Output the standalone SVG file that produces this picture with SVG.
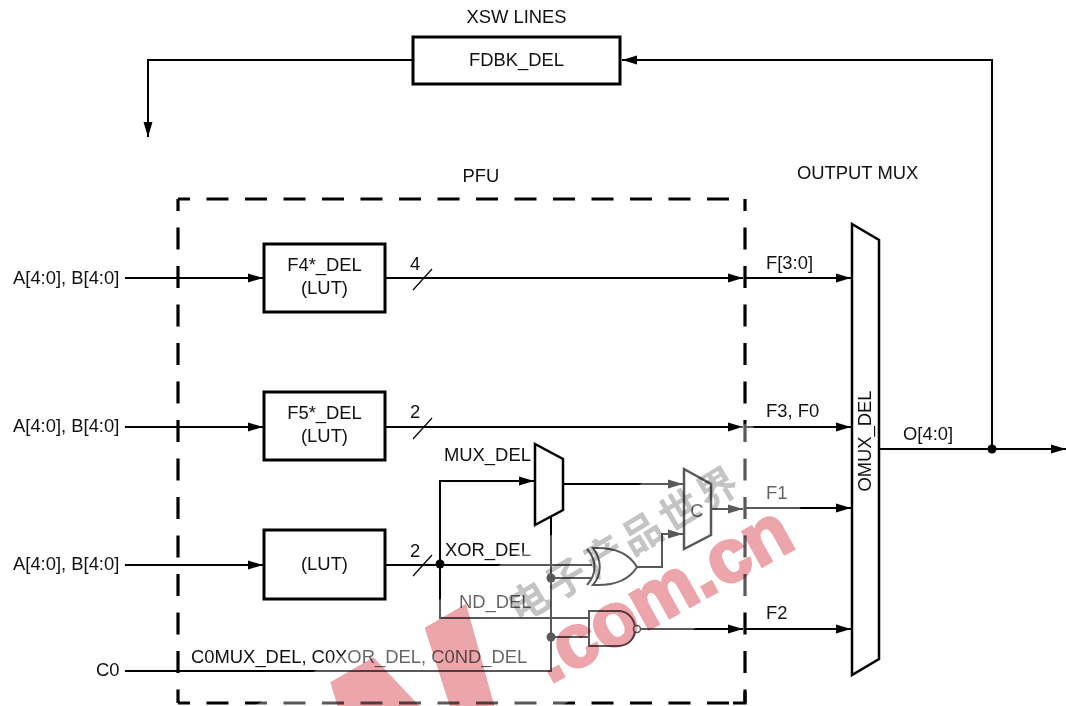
<svg xmlns="http://www.w3.org/2000/svg" width="1066" height="706" viewBox="0 0 1066 706">
<style>
text{font-family:"Liberation Sans",Arial,sans-serif;font-size:18.4px;fill:#111}
.m{text-anchor:middle}
.box{fill:#fff;stroke:#000;stroke-width:3}
.w{fill:none;stroke:#000;stroke-width:2}
.t{fill:none;stroke:#000;stroke-width:1.2}
.gate{fill:#fff;stroke:#000;stroke-width:2}
.d{fill:none;stroke:#000;stroke-width:3.2;stroke-dasharray:22 16.500;stroke-dashoffset:10}
.wm{mix-blend-mode:multiply}
text.wr{font-family:"Liberation Sans",Arial,sans-serif;font-weight:bold;fill:#eca5aa;stroke:#eca5aa}
text.cj{font-family:"Noto Sans CJK SC",sans-serif;font-weight:bold;fill:#c4c4c4;font-size:40px;letter-spacing:4px;text-anchor:middle}
</style>
<defs>
<marker id="a" markerUnits="userSpaceOnUse" markerWidth="16" markerHeight="10" refX="15" refY="5" orient="auto"><path d="M0 0.5L15 5L0 9.500z" fill="#000"/></marker>
</defs>
<rect width="1066" height="706" fill="#fff"/>

<g id="pfu">
<path class="d" d="M178 199H745"/>
<path class="d" d="M178 703H745"/>
<path class="d" d="M178 199V703"/>
<path class="d" d="M745 199V703"/>
<path d="M745 692V703H733" fill="none" stroke="#000" stroke-width="3.200"/>
<text class="m" x="481" y="182">PFU</text>
</g>

<g id="connectors">
<path class="w" d="M413 60H148V137" marker-end="url(#a)"/>
<path class="w" d="M992 449V60H622" marker-end="url(#a)"/>
<path class="w" d="M125 278H263" marker-end="url(#a)"/>
<path class="w" d="M385 278H743" marker-end="url(#a)"/>
<path class="w" d="M745 278H851" marker-end="url(#a)"/>
<path class="w" d="M125 427H263" marker-end="url(#a)"/>
<path class="w" d="M385 427H743" marker-end="url(#a)"/>
<path class="w" d="M745 427H851" marker-end="url(#a)"/>
<path class="w" d="M125 565H263" marker-end="url(#a)"/>
<path class="w" d="M385 565H592"/>
<path class="w" d="M440 565V481H534" marker-end="url(#a)"/>
<path class="w" d="M440 565V618H590"/>
<path class="w" d="M562 484H683" marker-end="url(#a)"/>
<path class="w" d="M636 567H662V534H683" marker-end="url(#a)"/>
<path class="w" d="M712 509H743" marker-end="url(#a)"/>
<path class="w" d="M745 508H851" marker-end="url(#a)"/>
<path class="w" d="M640 629H743" marker-end="url(#a)"/>
<path class="w" d="M745 629H851" marker-end="url(#a)"/>
<path class="w" d="M125 671H551V516"/>
<path class="w" d="M551 578H592"/>
<path class="w" d="M551 637H590"/>
<path class="w" d="M880 449H1066" marker-end="url(#a)"/>
<circle cx="992" cy="449" r="4.500"/>
<circle cx="440" cy="564" r="4.500"/>
<circle cx="551" cy="578" r="4.500"/>
<circle cx="551" cy="637" r="4.500"/>
<path class="t" d="M413 290L432 269M413 439L432 418M413 576L432 555"/>
</g>

<g id="fdbk"><rect class="box" x="413" y="37" width="207" height="47"/><text class="m" x="516.500" y="66">FDBK_DEL</text></g>
<text class="m" id="xsw" x="516.500" y="23">XSW LINES</text>
<g id="f4"><rect class="box" x="264" y="244" width="121" height="68"/><text class="m" x="324.500" y="271">F4*_DEL</text><text class="m" x="324.500" y="294">(LUT)</text></g>
<g id="f5"><rect class="box" x="264" y="392" width="121" height="68"/><text class="m" x="324.500" y="419">F5*_DEL</text><text class="m" x="324.500" y="442">(LUT)</text></g>
<g id="lut"><rect class="box" x="264" y="530" width="121" height="69"/><text class="m" x="324.500" y="570">(LUT)</text></g>

<g id="mux"><path d="M535 444L563 459V510L535 525z" fill="#fff" stroke="#000" stroke-width="2.500"/></g>
<g id="cmux"><path d="M684 469L711 484V535L684 549z" fill="#fff" stroke="#000" stroke-width="2.500"/><text class="m" x="697" y="517">C</text></g>
<g id="xor">
<path class="gate" d="M593 548C615 547 629 553 637 567C629 580 615 586 593 585C602 574 602 560 593 548z"/>
<path class="w" d="M587 549C597 560 597 574 587 585"/>
</g>
<g id="nand">
<path class="gate" d="M589 611H618C629 611 635 620 635 629C635 638 629 646 618 646H589z"/>
<circle cx="637" cy="629" r="3.500" fill="#fff" stroke="#000" stroke-width="1.500"/>
</g>
<g id="omux"><path d="M852 224L879 240V659L852 675z" fill="#fff" stroke="#000" stroke-width="2.500"/><text class="m" transform="translate(871 441) rotate(-90)">OMUX_DEL</text></g>

<text x="13" y="284">A[4:0], B[4:0]</text>
<text x="13" y="432">A[4:0], B[4:0]</text>
<text x="13" y="570">A[4:0], B[4:0]</text>
<text x="96" y="676">C0</text>
<text x="410" y="270">4</text>
<text x="410" y="418">2</text>
<text x="410" y="557">2</text>
<text x="444" y="461">MUX_DEL</text>
<text x="445" y="556">XOR_DEL</text>
<text x="459" y="608">ND_DEL</text>
<text x="191" y="663">C0MUX_DEL, C0XOR_DEL, C0ND_DEL</text>
<text x="766" y="269">F[3:0]</text>
<text x="766" y="417">F3, F0</text>
<text x="766" y="499">F1</text>
<text x="766" y="619">F2</text>
<text x="903" y="440">O[4:0]</text>
<text x="797" y="179">OUTPUT MUX</text>

<g id="watermark">
<path d="M254 706L750 421L826 553L561 706z" fill="#fff" fill-opacity="0.350"/>
<text class="wm wr" style="font-size:75px;stroke-width:3px" transform="translate(550 684) rotate(-29)">.com.cn</text>
<text class="wm wr" style="font-size:270px;stroke-width:8px" transform="translate(336 898) rotate(-30)">W</text>
<text class="wm cj" transform="translate(632 556) rotate(-31)">电子产品世界</text>
</g>
</svg>
